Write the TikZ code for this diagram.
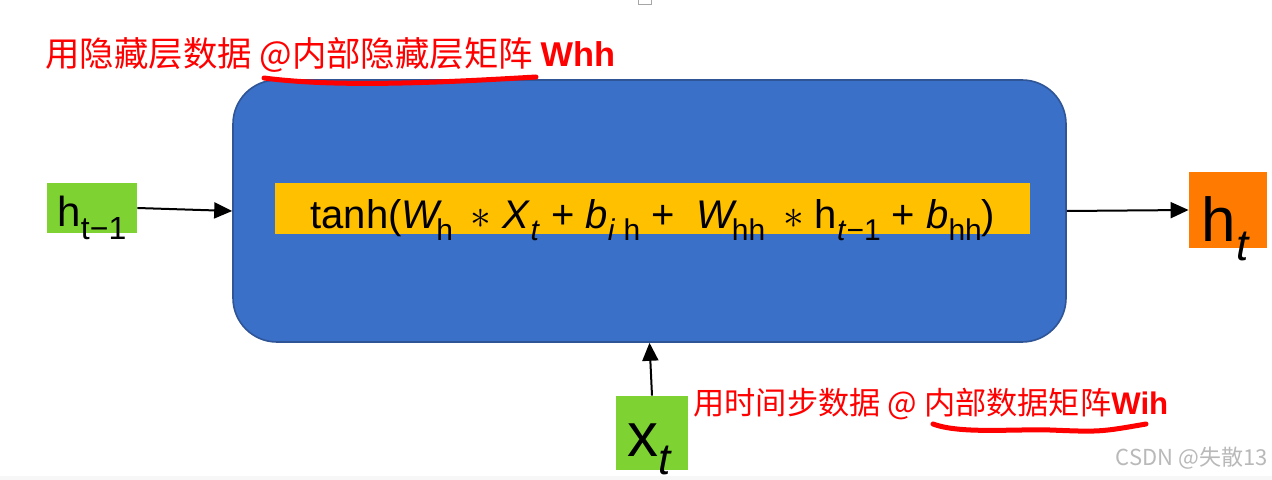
\documentclass[tikz,border=0pt]{standalone}
\usepackage{fontspec}
\setmainfont{Liberation Sans}
\newfontfamily\cjk{Noto Sans CJK SC}
\usetikzlibrary{arrows.meta}
\definecolor{boxblue}{RGB}{58,112,200}
\definecolor{boxedge}{RGB}{47,85,151}
\definecolor{bandyellow}{RGB}{255,192,0}
\definecolor{leafgreen}{RGB}{126,211,51}
\definecolor{outorange}{RGB}{255,122,0}
\definecolor{notered}{RGB}{255,0,0}
\newcommand\lowsub[2]{\raisebox{-0.3em}{\fontsize{#1}{#1}\selectfont #2}}
\tikzset{
  flow/.style={draw=black, line width=1pt, -{Triangle[length=9pt,width=8pt]}},
  leaf/.style={fill=leafgreen, draw=none, inner sep=0pt},
  note/.style={text=notered, inner sep=0pt},
  underl/.style={draw=notered, line width=2.5pt, line cap=round},
}
\begin{document}
\begin{tikzpicture}[x=0.5pt,y=-0.5pt]
\useasboundingbox (0,0) rectangle (1272,480);
\fill[white] (0,0) rectangle (1272,480);
\fill[gray!6] (0,476) rectangle (1272,480);
\draw[gray!70, line width=0.4pt] (638,-3) rectangle (651,4);
% main cell
\node[draw=boxedge, line width=0.8pt, fill=boxblue, rounded corners=22pt,
      minimum width=416.5pt, minimum height=131pt, inner sep=0pt] (cell) at (649.5,211) {};
\node[fill=bandyellow, minimum width=377.5pt, minimum height=25.5pt, inner sep=0pt] (band) at (652.5,208.5) {};
\node[anchor=base west, inner sep=0pt, font=\fontsize{20pt}{20pt}\selectfont] (formula) at (310,229)
 {tanh(\textit{W}\kern-3pt\lowsub{15pt}{h}\, $\ast$ \textit{X}\lowsub{15pt}{\textit{t}} + \textit{b}\lowsub{15pt}{\textit{i} h} + \ \textit{W}\kern-3pt\lowsub{15pt}{hh}\, $\ast$ h\lowsub{15pt}{\textit{t}−1} + \textit{b}\lowsub{15pt}{hh})};
% inputs and output
\node[leaf, minimum width=45pt, minimum height=25pt] (hprev) at (92,208) {};
\node[anchor=base, inner sep=0pt, font=\fontsize{21pt}{21pt}\selectfont] (hprevtxt) at (92,227) {h\lowsub{16pt}{t−1}};
\node[fill=outorange, inner sep=0pt, minimum width=39pt, minimum height=38pt] (hout) at (1228,210) {};
\node[anchor=base, inner sep=0pt, font=\fontsize{31pt}{31pt}\selectfont] (houttxt) at (1226,242) {h\lowsub{22pt}{\textit{t}}};
\node[leaf, minimum width=36pt, minimum height=37pt] (xt) at (652,433) {};
\node[anchor=base, inner sep=0pt, font=\fontsize{31pt}{31pt}\selectfont] (xttxt) at (650,456) {x\lowsub{22pt}{\textit{t}}};
% connectors
\draw[flow] (hprev.east) -- (cell.west);
\draw[flow] (cell.east) -- (hout.west);
\draw[flow] (xt.north) -- (cell.south);
% notes
\node[note, anchor=west, font=\cjk\fontsize{17.2pt}{17.2pt}\selectfont] (topnote) at (45,55) {用隐藏层数据 @内部隐藏层矩阵 \textbf{\rmfamily Whh}};
\node[note, anchor=west, font=\cjk\fontsize{15.6pt}{15.6pt}\selectfont] (botnote) at (693,404) {用时间步数据 @ 内部数据矩阵\textbf{\rmfamily Wih}};
\draw[underl] (264,78) .. controls (340,88) and (450,82) .. (536,77);
\draw[underl] (933,424) .. controls (960,434) and (1010,429) .. (1050,430) .. controls (1100,432) .. (1146,424);
\node[text=gray!55, inner sep=0pt, font=\cjk\fontsize{11pt}{11pt}\selectfont, anchor=east] (mark) at (1268,458) {CSDN @失散13};
\end{tikzpicture}
\end{document}
